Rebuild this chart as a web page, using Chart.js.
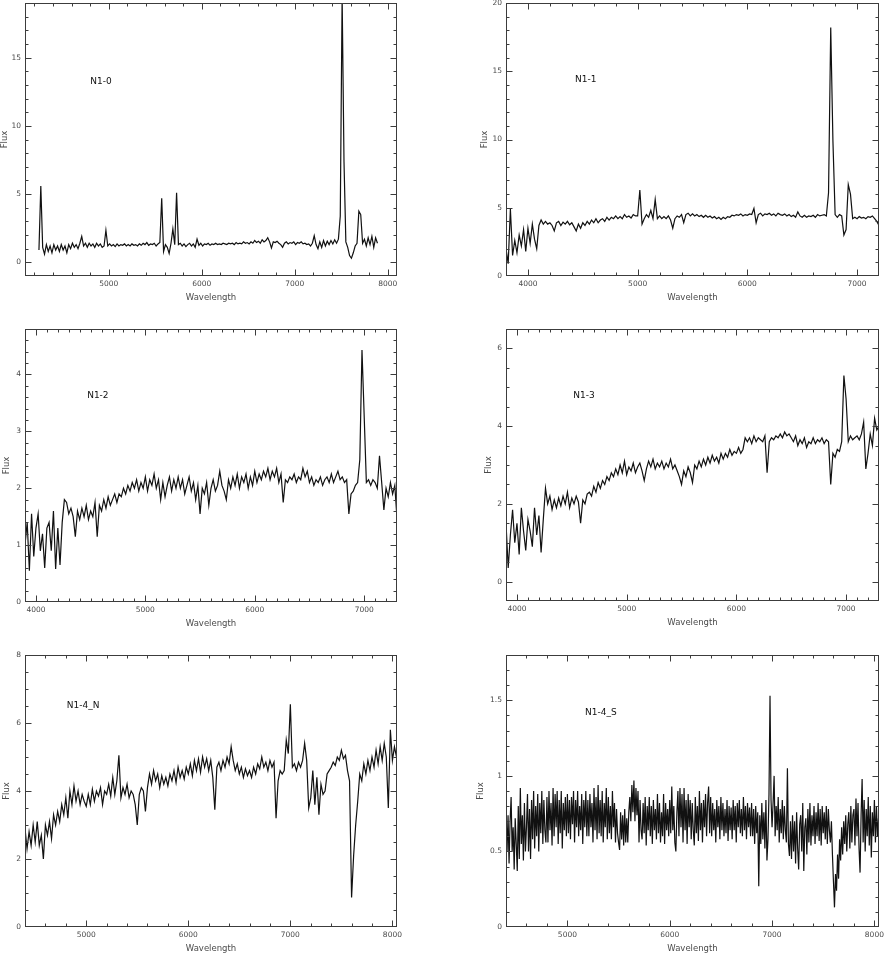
<!DOCTYPE html>
<html>
<head>
<meta charset="utf-8">
<title>N1 spectra</title>
<script src="https://cdn.jsdelivr.net/npm/chart.js@4.4.1/dist/chart.umd.min.js"></script>
<style>
  html, body { margin: 0; padding: 0; background: #fff; }
  #page { position: relative; width: 884px; height: 954px; overflow: hidden; }
  #page canvas { position: absolute; }
</style>
</head>
<body>
<div id="page"></div>
<script>
// ======================================================
// N1 slit spectra: six panels of Flux vs Wavelength
// ======================================================
//
// Each spectrum is sampled every stepLambda[i] Angstrom starting at
// startLambda[i]; the comment on each row is its first wavelength.
// ======================================================
(() => {
const SpectraPanels = (() => {

    const panelNames  = ["N1-0", "N1-1", "N1-2", "N1-3", "N1-4_N", "N1-4_S"];
    const startLambda = [4250, 3800, 3900, 3900, 4400, 4400];
    const stepLambda  = [20, 20, 20, 20, 20, 10];

    const fluxN10 = [
        /* 4250 */ 0.9, 5.6, 1.1, 0.6, 1.3, 0.8, 1.2, 0.7, 1.3, 0.9,
        /* 4450 */ 1.2, 0.8, 1.3, 0.9, 1.2, 0.7, 1.3, 1.0, 1.4, 1.1,
        /* 4650 */ 1.3, 1.0, 1.4, 1.9, 1.2, 1.4, 1.1, 1.4, 1.2, 1.35,
        /* 4850 */ 1.1, 1.4, 1.2, 1.35, 1.1, 1.2, 2.35, 1.2, 1.35, 1.2,
        /* 5050 */ 1.3, 1.15, 1.35, 1.2, 1.3, 1.25, 1.35, 1.2, 1.3, 1.2,
        /* 5250 */ 1.35, 1.25, 1.3, 1.2, 1.35, 1.25, 1.4, 1.3, 1.45, 1.25,
        /* 5450 */ 1.35, 1.3, 1.4, 1.2, 1.35, 1.45, 4.7, 0.8, 1.3, 1.1,
        /* 5650 */ 0.65, 1.4, 2.45, 1.3, 5.1, 1.3, 1.4, 1.2, 1.35, 1.15,
        /* 5850 */ 1.3, 1.4, 1.2, 1.35, 1.1, 1.7, 1.25, 1.4, 1.2, 1.35,
        /* 6050 */ 1.3, 1.4, 1.25, 1.35, 1.3, 1.4, 1.3, 1.35, 1.3, 1.4,
        /* 6250 */ 1.35, 1.3, 1.4, 1.35, 1.4, 1.3, 1.45, 1.35, 1.4, 1.35,
        /* 6450 */ 1.5, 1.4, 1.45, 1.35, 1.5, 1.4, 1.6, 1.45, 1.55, 1.4,
        /* 6650 */ 1.65, 1.5, 1.6, 1.8, 1.5, 1.05, 1.5, 1.45, 1.55, 1.4,
        /* 6850 */ 1.3, 1.1, 1.4, 1.5, 1.35, 1.45, 1.4, 1.5, 1.3, 1.45,
        /* 7050 */ 1.4, 1.5, 1.35, 1.4, 1.3, 1.35, 1.2, 1.4, 1.95, 1.3,
        /* 7250 */ 1.0, 1.5, 1.1, 1.6, 1.2, 1.55, 1.3, 1.6, 1.35, 1.65,
        /* 7450 */ 1.4, 1.7, 3.4, 19.5, 7.4, 1.5, 1.1, 0.5, 0.3, 0.7,
        /* 7650 */ 1.2, 1.4, 3.75, 3.5, 1.4, 1.7, 1.2, 1.8, 1.3, 1.9,
        /* 7850 */ 1.1, 1.8, 1.4
    ];

    const fluxN11 = [
        /* 3800 */ 2.0, 0.9, 4.9, 1.5, 2.6, 1.7, 3.0, 2.2, 3.4, 1.8,
        /* 4000 */ 3.5, 2.4, 3.8, 2.7, 2.0, 3.7, 4.1, 3.8, 4.0, 3.8,
        /* 4200 */ 3.9, 3.7, 3.3, 3.9, 4.0, 3.7, 3.95, 3.8, 4.0, 3.75,
        /* 4400 */ 3.9, 3.6, 3.3, 3.8, 3.5, 3.9, 3.7, 4.0, 3.8, 4.1,
        /* 4600 */ 3.9, 4.2, 3.9, 4.1, 4.2, 4.0, 4.3, 4.1, 4.3, 4.2,
        /* 4800 */ 4.4, 4.2, 4.35, 4.2, 4.5, 4.3, 4.4, 4.25, 4.5, 4.4,
        /* 5000 */ 4.4, 6.3, 3.8, 4.2, 4.5, 4.3, 4.8, 4.2, 5.6, 4.2,
        /* 5200 */ 4.4, 4.2, 4.35, 4.2, 4.4, 4.1, 3.5, 4.2, 4.4, 4.3,
        /* 5400 */ 4.5, 3.9, 4.5, 4.6, 4.4, 4.55, 4.4, 4.5, 4.35, 4.45,
        /* 5600 */ 4.3, 4.45, 4.3, 4.4, 4.25, 4.35, 4.2, 4.3, 4.15, 4.3,
        /* 5800 */ 4.2, 4.35, 4.3, 4.45, 4.4, 4.5, 4.45, 4.55, 4.4, 4.5,
        /* 6000 */ 4.45, 4.55, 4.5, 4.95, 3.9, 4.5, 4.6, 4.4, 4.55, 4.5,
        /* 6200 */ 4.6, 4.45, 4.55, 4.4, 4.6, 4.5, 4.45, 4.55, 4.4, 4.5,
        /* 6400 */ 4.35, 4.45, 4.3, 4.7, 4.4, 4.3, 4.45, 4.3, 4.4, 4.35,
        /* 6600 */ 4.45, 4.3, 4.5, 4.4, 4.45, 4.5, 4.4, 6.1, 18.2, 9.9,
        /* 6800 */ 4.5, 4.3, 4.5, 4.4, 3.0, 3.4, 6.7, 6.0, 4.2, 4.3,
        /* 7000 */ 4.2, 4.35, 4.25, 4.3, 4.2, 4.35, 4.3, 4.4, 4.2, 4.0,
        /* 7200 */ 3.7
    ];

    const fluxN12 = [
        /* 3900 */ 1.0, 1.4, 0.55, 1.55, 0.8, 1.3, 1.55, 0.9, 1.2, 0.6,
        /* 4100 */ 1.3, 1.4, 0.9, 1.6, 0.58, 1.3, 0.65, 1.4, 1.8, 1.75,
        /* 4300 */ 1.55, 1.65, 1.5, 1.15, 1.6, 1.45, 1.65, 1.5, 1.7, 1.45,
        /* 4500 */ 1.6, 1.5, 1.75, 1.15, 1.7, 1.6, 1.8, 1.65, 1.85, 1.7,
        /* 4700 */ 1.8, 1.9, 1.75, 1.9, 1.85, 2.0, 1.9, 2.05, 1.95, 2.1,
        /* 4900 */ 2.0, 2.15, 1.95, 2.1, 2.0, 2.2, 1.95, 2.15, 2.05, 2.25,
        /* 5100 */ 2.0, 2.15, 1.8, 2.1, 1.85, 2.05, 2.2, 1.95, 2.15, 2.0,
        /* 5300 */ 2.2, 2.0, 2.15, 1.9, 2.05, 2.2, 1.95, 2.1, 1.8, 2.05,
        /* 5500 */ 1.55, 2.0, 1.9, 2.1, 1.7, 2.0, 2.15, 1.95, 2.05, 2.3,
        /* 5700 */ 2.05, 1.95, 1.8, 2.15, 2.0, 2.2, 2.05, 2.25, 2.0, 2.2,
        /* 5900 */ 2.1, 2.25, 2.0, 2.2, 2.05, 2.3, 2.1, 2.25, 2.15, 2.3,
        /* 6100 */ 2.2, 2.35, 2.15, 2.3, 2.2, 2.35, 2.1, 2.25, 1.75, 2.15,
        /* 6300 */ 2.1, 2.2, 2.15, 2.25, 2.1, 2.2, 2.15, 2.35, 2.2, 2.3,
        /* 6500 */ 2.1, 2.2, 2.05, 2.15, 2.1, 2.2, 2.05, 2.15, 2.2, 2.1,
        /* 6700 */ 2.25, 2.1, 2.2, 2.3, 2.15, 2.2, 2.1, 2.15, 1.55, 1.9,
        /* 6900 */ 1.95, 2.05, 2.1, 2.5, 4.43, 3.27, 2.1, 2.15, 2.05, 2.15,
        /* 7100 */ 2.1, 2.0, 2.57, 2.1, 1.62, 2.0, 1.85, 2.1, 1.9, 2.05,
        /* 7300 */ 1.46
    ];

    const fluxN13 = [
        /* 3900 */ 1.5, 0.35, 1.2, 1.85, 1.0, 1.5, 0.7, 1.9, 1.3, 0.8,
        /* 4100 */ 1.6, 1.3, 0.9, 1.9, 1.2, 1.7, 0.75, 1.6, 2.4, 2.0,
        /* 4300 */ 2.2, 1.85, 2.1, 1.9, 2.15, 1.95, 2.2, 2.0, 2.3, 1.9,
        /* 4500 */ 2.15, 2.0, 2.2, 2.05, 1.5, 2.1, 2.0, 2.25, 2.3, 2.2,
        /* 4700 */ 2.45, 2.3, 2.55, 2.4, 2.6, 2.5, 2.7, 2.6, 2.8, 2.7,
        /* 4900 */ 2.9, 2.75, 3.0, 2.8, 3.1, 2.75, 2.95, 2.85, 3.05, 2.8,
        /* 5100 */ 2.95, 3.05, 2.85, 2.6, 2.9, 3.1, 2.95, 3.15, 2.9, 3.05,
        /* 5300 */ 2.95, 3.1, 2.9, 3.05, 2.95, 3.15, 2.9, 3.0, 2.85, 2.7,
        /* 5500 */ 2.5, 2.85, 2.7, 2.95, 2.8, 2.55, 3.0, 2.9, 3.1, 2.95,
        /* 5700 */ 3.15, 3.0, 3.2, 3.05, 3.25, 3.1, 3.2, 3.05, 3.3, 3.15,
        /* 5900 */ 3.3, 3.2, 3.4, 3.25, 3.35, 3.3, 3.45, 3.3, 3.4, 3.7,
        /* 6100 */ 3.6, 3.7, 3.55, 3.75, 3.6, 3.7, 3.65, 3.6, 3.75, 2.8,
        /* 6300 */ 3.6, 3.7, 3.65, 3.75, 3.7, 3.8, 3.7, 3.85, 3.75, 3.8,
        /* 6500 */ 3.7, 3.6, 3.75, 3.5, 3.65, 3.55, 3.7, 3.45, 3.6, 3.55,
        /* 6700 */ 3.7, 3.55, 3.65, 3.6, 3.7, 3.55, 3.65, 3.6, 2.5, 3.3,
        /* 6900 */ 3.2, 3.4, 3.35, 3.6, 5.3, 4.7, 3.6, 3.75, 3.65, 3.7,
        /* 7100 */ 3.75, 3.65, 3.8, 4.1, 2.9, 3.3, 3.8, 3.5, 4.2, 3.9,
        /* 7300 */ 4.0
    ];

    const fluxN14N = [
        /* 4400 */ 2.9, 2.3, 2.8, 2.4, 3.0, 2.5, 3.1, 2.4, 2.7, 2.0,
        /* 4600 */ 3.0, 2.7, 3.1, 2.6, 3.3, 3.0, 3.4, 3.1, 3.6, 3.3,
        /* 4800 */ 3.8, 3.2, 4.0, 3.6, 4.15, 3.7, 4.0, 3.6, 3.9, 3.7,
        /* 5000 */ 3.55, 3.9, 3.6, 4.05, 3.7, 4.0, 3.85, 4.1, 3.6, 4.0,
        /* 5200 */ 3.9, 4.2, 3.85, 4.4, 3.9, 4.3, 5.05, 3.8, 4.1, 3.9,
        /* 5400 */ 4.2, 3.8, 4.0, 3.9, 3.6, 3.0, 3.9, 4.1, 4.0, 3.4,
        /* 5600 */ 4.1, 4.5, 4.2, 4.6, 4.3, 4.5, 4.1, 4.45, 4.2, 4.4,
        /* 5800 */ 4.15, 4.5, 4.3, 4.6, 4.25, 4.7, 4.4, 4.6, 4.35, 4.7,
        /* 6000 */ 4.5, 4.8, 4.45, 4.9, 4.6, 4.95, 4.55, 5.0, 4.7, 4.95,
        /* 6200 */ 4.6, 4.9, 4.4, 3.45, 4.7, 4.85, 4.6, 4.9, 4.7, 5.0,
        /* 6400 */ 4.8, 5.3, 4.9, 4.6, 4.8, 4.5, 4.7, 4.4, 4.65, 4.45,
        /* 6600 */ 4.6, 4.4, 4.7, 4.5, 4.8, 4.65, 5.0, 4.7, 4.85, 4.6,
        /* 6800 */ 4.9, 4.7, 4.85, 3.2, 4.3, 4.6, 4.5, 4.6, 5.5, 5.1,
        /* 7000 */ 6.55, 4.7, 4.8, 4.6, 4.85, 4.7, 4.9, 5.4, 4.9, 3.5,
        /* 7200 */ 3.8, 4.6, 3.6, 4.4, 3.3, 4.2, 3.9, 4.0, 4.5, 4.6,
        /* 7400 */ 4.7, 4.85, 4.75, 5.0, 4.9, 5.2, 4.95, 5.05, 4.6, 4.3,
        /* 7600 */ 0.87, 2.1, 3.0, 3.7, 4.5, 4.3, 4.8, 4.5, 4.9, 4.6,
        /* 7800 */ 5.0, 4.7, 5.2, 4.8, 5.3, 4.9, 5.4, 5.0, 3.5, 5.8,
        /* 8000 */ 4.9, 5.3, 5.0
    ];

    // 10 A sampling here: this one is mostly noise
    const fluxN14S = [
        /* 4400 */ 0.77, 0.5, 0.74, 0.42, 0.7, 0.86, 0.5, 0.66, 0.38, 0.72, 0.55, 0.37, 0.8, 0.45, 0.92, 0.55, 0.74, 0.44, 0.82, 0.5,
        /* 4600 */ 0.66, 0.88, 0.5, 0.78, 0.45, 0.84, 0.58, 0.9, 0.52, 0.8, 0.6, 0.88, 0.5, 0.82, 0.62, 0.9, 0.55, 0.84, 0.64, 0.56,
        /* 4800 */ 0.86, 0.56, 0.9, 0.64, 0.82, 0.54, 0.92, 0.6, 0.88, 0.66, 0.9, 0.55, 0.84, 0.62, 0.9, 0.52, 0.82, 0.64, 0.86, 0.6,
        /* 5000 */ 0.88, 0.62, 0.84, 0.58, 0.86, 0.68, 0.9, 0.56, 0.84, 0.66, 0.9, 0.6, 0.8, 0.64, 0.88, 0.55, 0.84, 0.66, 0.9, 0.6,
        /* 5200 */ 0.84, 0.6, 0.88, 0.66, 0.82, 0.56, 0.92, 0.64, 0.86, 0.58, 0.94, 0.62, 0.84, 0.6, 0.9, 0.56, 0.82, 0.66, 0.92, 0.58,
        /* 5400 */ 0.86, 0.62, 0.8, 0.58, 0.9, 0.66, 0.82, 0.56, 0.78, 0.62, 0.56, 0.51, 0.76, 0.58, 0.74, 0.54, 0.78, 0.56, 0.72, 0.56,
        /* 5600 */ 0.76, 0.86, 0.7, 0.94, 0.76, 0.97, 0.7, 0.92, 0.74, 0.9, 0.56, 0.84, 0.64, 0.58, 0.82, 0.62, 0.86, 0.54, 0.8, 0.64,
        /* 5800 */ 0.86, 0.6, 0.8, 0.55, 0.84, 0.64, 0.78, 0.58, 0.88, 0.62, 0.82, 0.56, 0.76, 0.6, 0.88, 0.55, 0.82, 0.64, 0.78, 0.6,
        /* 6000 */ 0.84, 0.62, 0.93, 0.64, 0.8, 0.56, 0.5, 0.76, 0.9, 0.6, 0.92, 0.66, 0.88, 0.56, 0.92, 0.64, 0.84, 0.55, 0.88, 0.66,
        /* 6200 */ 0.84, 0.58, 0.82, 0.64, 0.54, 0.86, 0.62, 0.8, 0.57, 0.9, 0.64, 0.82, 0.56, 0.84, 0.66, 0.88, 0.6, 0.82, 0.93, 0.62,
        /* 6400 */ 0.86, 0.6, 0.82, 0.64, 0.78, 0.56, 0.84, 0.66, 0.8, 0.58, 0.86, 0.64, 0.82, 0.6, 0.78, 0.62, 0.84, 0.57, 0.8, 0.64,
        /* 6600 */ 0.79, 0.58, 0.84, 0.64, 0.8, 0.56, 0.82, 0.66, 0.84, 0.62, 0.78, 0.6, 0.86, 0.64, 0.8, 0.58, 0.82, 0.66, 0.79, 0.6,
        /* 6800 */ 0.82, 0.6, 0.78, 0.55, 0.8, 0.62, 0.76, 0.27, 0.74, 0.55, 0.82, 0.58, 0.76, 0.52, 0.84, 0.44, 0.58, 0.88, 1.53, 0.84,
        /* 7000 */ 0.66, 0.82, 1.0, 0.6, 0.8, 0.64, 0.86, 0.56, 0.78, 0.62, 0.84, 0.58, 0.8, 0.64, 0.56, 1.05, 0.55, 0.47, 0.7, 0.45,
        /* 7200 */ 0.74, 0.5, 0.7, 0.42, 0.76, 0.52, 0.38, 0.68, 0.74, 0.5, 0.82, 0.37, 0.66, 0.72, 0.48, 0.78, 0.56, 0.82, 0.54, 0.74,
        /* 7400 */ 0.6, 0.8, 0.55, 0.76, 0.6, 0.82, 0.57, 0.78, 0.54, 0.8, 0.62, 0.76, 0.58, 0.8, 0.55, 0.78, 0.64, 0.56, 0.7, 0.48,
        /* 7600 */ 0.3, 0.13, 0.35, 0.24, 0.48, 0.32, 0.58, 0.44, 0.66, 0.48, 0.7, 0.55, 0.74, 0.5, 0.68, 0.76, 0.52, 0.8, 0.56, 0.74,
        /* 7800 */ 0.78, 0.54, 0.85, 0.6, 0.82, 0.52, 0.36, 0.74, 0.98, 0.56, 0.84, 0.5, 0.78, 0.6, 0.86, 0.54, 0.8, 0.46, 0.76, 0.6,
        /* 8000 */ 0.84, 0.56, 0.8, 0.6, 0.72
    ];

    const fluxes = [fluxN10, fluxN11, fluxN12, fluxN13, fluxN14N, fluxN14S];

    // axis limits and labelled (major) ticks
    const xLimits = [[4100, 8100], [3800, 7200], [3900, 7300], [3900, 7300], [4400, 8045], [4400, 8045]];
    const yLimits = [[-1, 19], [0, 20], [0, 4.8], [-0.5, 6.5], [0, 8], [0, 1.8]];
    const xMajor  = [
        [5000, 6000, 7000, 8000],
        [4000, 5000, 6000, 7000],
        [4000, 5000, 6000, 7000],
        [4000, 5000, 6000, 7000],
        [5000, 6000, 7000, 8000],
        [5000, 6000, 7000, 8000]
    ];
    const yMajor  = [
        [0, 5, 10, 15],
        [0, 5, 10, 15, 20],
        [0, 1, 2, 3, 4],
        [0, 2, 4, 6],
        [0, 2, 4, 6, 8],
        [0, 0.5, 1, 1.5]
    ];
    const xMinorStep = [200, 200, 100, 100, 200, 200];
    const yMinorStep = [1, 1, 0.2, 0.5, 0.5, 0.1];

    // where each panel name sits, in data units (wavelength, flux)
    const nameAt = [[4916, 13.26], [4526, 14.36], [4566, 3.63], [4611, 4.78], [4970, 6.51], [5327, 1.42]];

    // page geometry: canvas box + plot frame (page px) + centre of the "Flux" title
    const frames = [
        { cx: 0,   cy: 0,   w: 442, h: 315, L: 25,  T: 3,   R: 397, B: 276, fluxX: 4 },
        { cx: 442, cy: 0,   w: 442, h: 315, L: 506, T: 3,   R: 879, B: 276, fluxX: 485 },
        { cx: 0,   cy: 315, w: 442, h: 325, L: 25,  T: 329, R: 397, B: 602, fluxX: 7 },
        { cx: 442, cy: 315, w: 442, h: 325, L: 506, T: 329, R: 879, B: 601, fluxX: 489 },
        { cx: 0,   cy: 640, w: 442, h: 314, L: 25,  T: 655, R: 397, B: 927, fluxX: 7 },
        { cx: 442, cy: 640, w: 442, h: 314, L: 506, T: 655, R: 879, B: 927, fluxX: 481 }
    ];

    const FONT       = "'DejaVu Sans', sans-serif";
    const TICK_SIZE  = 7.5;
    const TITLE_SIZE = 8.5;
    const X_TITLE_DROP = 21.5;   // px from frame bottom to centre of "Wavelength"

    // PGPLOT-like box: frame plus inward ticks on all four sides, and the panel name
    const pgFrame = {
        id: "pgFrame",
        afterDatasetsDraw(chart, args, opts) {
            const { ctx, chartArea: a, scales } = chart;
            const left   = Math.round(a.left) + 0.5;
            const right  = Math.round(a.right) - 0.5;
            const top    = Math.round(a.top) + 0.5;
            const bottom = Math.round(a.bottom) - 0.5;

            ctx.save();
            ctx.strokeStyle = "#3c3c3c";
            ctx.lineWidth = 1;
            ctx.strokeRect(left, top, right - left, bottom - top);

            ctx.beginPath();
            scales.x.ticks.forEach(t => {
                const px = Math.round(scales.x.getPixelForValue(t.value)) + 0.5;
                if (px <= left || px >= right) return;
                const len = t.big ? 6 : 3;
                ctx.moveTo(px, bottom); ctx.lineTo(px, bottom - len);
                ctx.moveTo(px, top);    ctx.lineTo(px, top + len);
            });
            scales.y.ticks.forEach(t => {
                const py = Math.round(scales.y.getPixelForValue(t.value)) + 0.5;
                if (py <= top || py >= bottom) return;
                const len = t.big ? 6 : 3;
                ctx.moveTo(left, py);  ctx.lineTo(left + len, py);
                ctx.moveTo(right, py); ctx.lineTo(right - len, py);
            });
            ctx.stroke();

            ctx.fillStyle = "#111";
            ctx.font = "9px " + FONT;
            ctx.textAlign = "center";
            ctx.textBaseline = "middle";
            ctx.fillText(opts.text,
                scales.x.getPixelForValue(opts.at[0]),
                scales.y.getPixelForValue(opts.at[1]));
            ctx.restore();
        }
    };

    function tickList(lo, hi, step, majors) {
        const out = [];
        const k0 = Math.ceil(lo / step - 1e-9);
        const k1 = Math.floor(hi / step + 1e-9);
        for (let k = k0; k <= k1; k++) {
            const v = Math.round(k * step * 1000) / 1000;
            out.push({ value: v, big: majors.some(m => Math.abs(m - v) < 1e-6) });
        }
        return out;
    }

    document.addEventListener("DOMContentLoaded", () => {
        panelNames.forEach((name, i) => build(i));
    });

    function build(i) {
        const f = frames[i];
        const page = document.getElementById("page");

        const canvas = document.createElement("canvas");
        canvas.width  = f.w;
        canvas.height = f.h;
        canvas.style.left = f.cx + "px";
        canvas.style.top  = f.cy + "px";
        page.appendChild(canvas);

        // Axis boxes are forced to fixed sizes so the frame lands where the
        // reference has it; the titles then sit at the outer edge of each box.
        const titleLine = TITLE_SIZE * 1.2;
        const padLeft   = Math.max(0, f.fluxX - f.cx - titleLine / 2);
        const yWidth    = f.L - f.cx - padLeft;
        const xHeight   = X_TITLE_DROP + titleLine / 2;
        const padBottom = Math.max(0, f.h - (f.B - f.cy) - xHeight);

        const points = fluxes[i].map((v, k) => ({ x: startLambda[i] + k * stepLambda[i], y: v }));

        new Chart(canvas, {
            type: "line",
            data: {
                datasets: [{
                    label: panelNames[i],
                    data: points,
                    borderColor: "#111",
                    borderWidth: 1.2,
                    pointRadius: 0,
                    tension: 0,
                    fill: false
                }]
            },
            plugins: [pgFrame],
            options: {
                responsive: false,
                devicePixelRatio: 1,
                animation: false,
                events: [],
                layout: {
                    padding: {
                        left: padLeft,
                        top: f.T - f.cy,
                        right: f.cx + f.w - f.R,
                        bottom: padBottom
                    }
                },
                plugins: {
                    legend: { display: false },
                    tooltip: { enabled: false },
                    pgFrame: { text: panelNames[i], at: nameAt[i] }
                },
                scales: {
                    x: {
                        type: "linear",
                        min: xLimits[i][0],
                        max: xLimits[i][1],
                        grid: { display: false, drawTicks: false },
                        border: { display: false },
                        afterBuildTicks(axis) {
                            axis.ticks = tickList(xLimits[i][0], xLimits[i][1], xMinorStep[i], xMajor[i]);
                        },
                        afterFit(axis) {
                            axis.height = xHeight;
                            axis.paddingLeft = 0;
                            axis.paddingRight = 0;
                        },
                        ticks: {
                            autoSkip: false,
                            maxRotation: 0,
                            minRotation: 0,
                            padding: 4,
                            color: "#4a4a4a",
                            font: { family: FONT, size: TICK_SIZE },
                            callback: (val, idx, ticks) => ticks[idx].big ? String(val) : ""
                        },
                        title: {
                            display: true,
                            text: "Wavelength",
                            color: "#4a4a4a",
                            padding: 0,
                            font: { family: FONT, size: TITLE_SIZE }
                        }
                    },
                    y: {
                        type: "linear",
                        min: yLimits[i][0],
                        max: yLimits[i][1],
                        grid: { display: false, drawTicks: false },
                        border: { display: false },
                        afterBuildTicks(axis) {
                            axis.ticks = tickList(yLimits[i][0], yLimits[i][1], yMinorStep[i], yMajor[i]);
                        },
                        afterFit(axis) {
                            axis.width = yWidth;
                            axis.paddingTop = 0;
                            axis.paddingBottom = 0;
                        },
                        ticks: {
                            autoSkip: false,
                            padding: 4,
                            color: "#4a4a4a",
                            font: { family: FONT, size: TICK_SIZE },
                            callback: (val, idx, ticks) => ticks[idx].big ? String(val) : ""
                        },
                        title: {
                            display: true,
                            text: "Flux",
                            color: "#4a4a4a",
                            padding: 0,
                            font: { family: FONT, size: TITLE_SIZE }
                        }
                    }
                }
            }
        });
    }

    return { build };

})();
})();
</script>
</body>
</html>
